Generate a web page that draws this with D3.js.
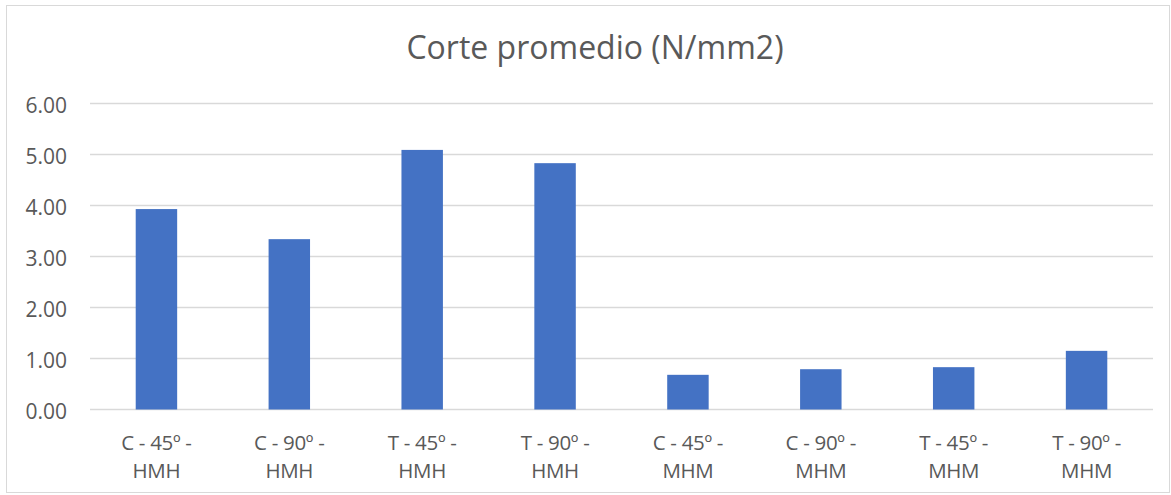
<!DOCTYPE html>
<html>
<head>
<meta charset="utf-8">
<script src="https://cdn.jsdelivr.net/npm/d3@7"></script>
<style>
  html, body { margin: 0; padding: 0; background: #ffffff; }
  svg { display: block; }
  text { font-family: "Open Sans", "Noto Sans", sans-serif; fill: #595959; }
</style>
</head>
<body>
<svg id="chart" width="1171" height="495"></svg>
<script>
// Average shear strength per specimen group
const categories = [
  ["C - 45º -", "HMH"],
  ["C - 90º -", "HMH"],
  ["T - 45º -", "HMH"],
  ["T - 90º -", "HMH"],
  ["C - 45º -", "MHM"],
  ["C - 90º -", "MHM"],
  ["T - 45º -", "MHM"],
  ["T - 90º -", "MHM"]
];
const values = [3.93, 3.34, 5.09, 4.83, 0.68, 0.79, 0.83, 1.15];
const yTicks = [0, 1, 2, 3, 4, 5, 6];
const title = "Corte promedio (N/mm2)";

const svg = d3.select("#chart");
const W = 1171, H = 495;

// outer chart frame
svg.append("rect")
  .attr("x", 6.5).attr("y", 5.5)
  .attr("width", W - 8).attr("height", H - 8)
  .attr("fill", "#ffffff")
  .attr("stroke", "#d9d9d9").attr("stroke-width", 1);

const plot = { left: 90, right: 1153, top: 103.5, bottom: 409.5 };

const x = d3.scaleBand()
  .domain(d3.range(categories.length))
  .range([plot.left, plot.right])
  .padding(0);

const y = d3.scaleLinear()
  .domain([0, 6])
  .range([plot.bottom, plot.top]);

// horizontal gridlines
svg.append("g")
  .selectAll("line")
  .data(yTicks)
  .join("line")
  .attr("x1", plot.left).attr("x2", plot.right)
  .attr("y1", d => y(d)).attr("y2", d => y(d))
  .attr("stroke", "#d9d9d9").attr("stroke-width", 1.3);

// y axis labels
const yAxis = d3.axisLeft(y)
  .tickValues(yTicks)
  .tickFormat(d3.format(".2f"))
  .tickSize(0)
  .tickPadding(0);
const gy = svg.append("g")
  .attr("transform", `translate(${plot.left - 23},0)`)
  .call(yAxis);
gy.select(".domain").remove();
gy.selectAll("text")
  .attr("font-size", 21)
  .attr("font-family", null)
  .attr("dy", "0.42em")
  .style("fill", "#595959");

// bars
const barFrac = 0.312;
svg.append("g")
  .selectAll("rect")
  .data(values)
  .join("rect")
  .attr("x", (d, i) => x(i) + x.bandwidth() * (1 - barFrac) / 2)
  .attr("width", x.bandwidth() * barFrac)
  .attr("y", d => y(d))
  .attr("height", d => y(0) - y(d))
  .attr("fill", "#4472c4");

// x axis category labels (two lines each)
const xl = svg.append("g")
  .selectAll("text")
  .data(categories)
  .join("text")
  .attr("text-anchor", "middle")
  .attr("font-size", 20.5)
  .attr("letter-spacing", -0.3)
  .attr("x", (d, i) => x(i) + x.bandwidth() / 2);
xl.each(function(d) {
  const t = d3.select(this);
  t.append("tspan").attr("x", t.attr("x")).attr("y", 450).text(d[0]);
  t.append("tspan").attr("x", t.attr("x")).attr("y", 478).text(d[1]);
});

// chart title
svg.append("text")
  .attr("x", 595).attr("y", 59)
  .attr("text-anchor", "middle")
  .attr("font-size", 32)
  .text(title);
</script>
</body>
</html>
